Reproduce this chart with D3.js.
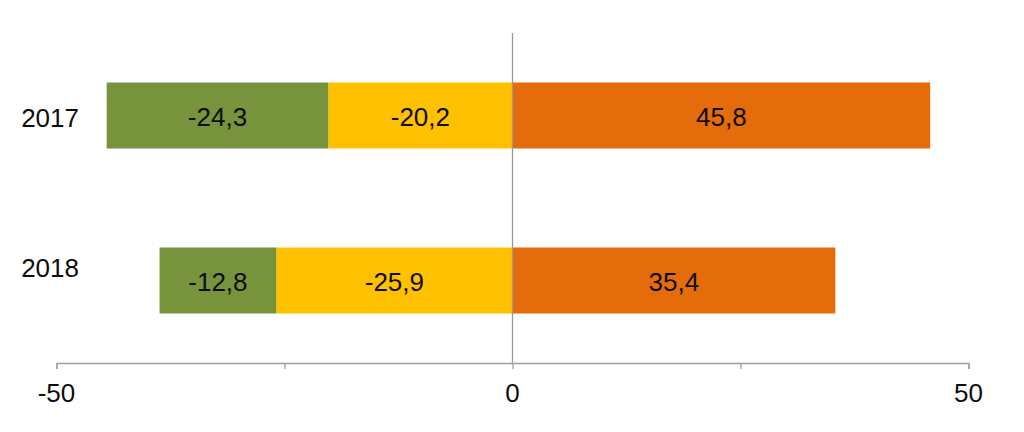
<!DOCTYPE html>
<html>
<head>
<meta charset="utf-8">
<script src="https://cdn.jsdelivr.net/npm/d3@7"></script>
<style>
  body { margin: 0; background: #fff; }
  svg { display: block; font-family: "Liberation Sans", Arial, sans-serif; }
</style>
</head>
<body>
<div id="chart"></div>
<script>
var years = ["2017", "2018"];
var green_vals = [-24.3, -12.8];
var yellow_vals = [-20.2, -25.9];
var orange_vals = [45.8, 35.4];
var x_ticks = [-50, -25, 0, 25, 50];
var x_labels = [-50, 0, 50];

var width = 1024, height = 432;

var svg = d3.select("#chart").append("svg")
    .attr("width", width)
    .attr("height", height);

var x = d3.scaleLinear().domain([-50, 50]).range([56.5, 968.5]);
var y = d3.scaleBand().domain(years).range([33, 363])
    .paddingInner(0.6).paddingOuter(0.3);
// the year labels don't sit on the bar centres in the original
var yLab = d3.scalePoint().domain(years).range([117.5, 267.5]);

var fmt = function (v) { return d3.format(".1f")(v).replace("\u2212", "-").replace(".", ","); };

// build stacked segments: yellow next to zero, green further out
var segs = [];
years.forEach(function (yr, i) {
  segs.push({ year: yr, x0: 0, x1: yellow_vals[i], v: yellow_vals[i], color: "#FFC000" });
  segs.push({ year: yr, x0: yellow_vals[i], x1: yellow_vals[i] + green_vals[i], v: green_vals[i], color: "#77933C" });
  segs.push({ year: yr, x0: 0, x1: orange_vals[i], v: orange_vals[i], color: "#E46C0A" });
});

svg.selectAll("rect.seg")
  .data(segs)
  .enter().append("rect")
  .attr("class", "seg")
  .attr("x", function (d) { return x(Math.min(d.x0, d.x1)); })
  .attr("width", function (d) { return Math.abs(x(d.x1) - x(d.x0)); })
  .attr("y", function (d) { return y(d.year); })
  .attr("height", y.bandwidth())
  .attr("fill", function (d) { return d.color; });

svg.selectAll("text.val")
  .data(segs)
  .enter().append("text")
  .attr("class", "val")
  .attr("x", function (d) { return (x(d.x0) + x(d.x1)) / 2; })
  .attr("y", function (d) { return y(d.year) + y.bandwidth() / 2 + 1; })
  .attr("dy", "0.36em")
  .attr("text-anchor", "middle")
  .attr("font-size", 26)
  .attr("fill", "#0d0d0d")
  .text(function (d) { return fmt(d.v); });

// zero line
svg.append("line")
  .attr("x1", x(0)).attr("x2", x(0))
  .attr("y1", 33).attr("y2", 363)
  .attr("stroke", "#999").attr("stroke-width", 1.3);

// x axis
var xAxis = d3.axisBottom(x).tickValues(x_ticks).tickSize(6).tickFormat("");
var gx = svg.append("g").attr("transform", "translate(0,363)").call(xAxis);
gx.select(".domain").attr("stroke", "#a0a0a0").attr("stroke-width", 1.3);
gx.selectAll(".tick line").attr("stroke", "#a0a0a0").attr("stroke-width", 1.3);

svg.selectAll("text.xlab")
  .data(x_labels)
  .enter().append("text")
  .attr("class", "xlab")
  .attr("x", function (d) { return x(d); })
  .attr("y", 402)
  .attr("text-anchor", "middle")
  .attr("font-size", 26)
  .attr("fill", "#0d0d0d")
  .text(function (d) { return d; });

// year labels
svg.selectAll("text.ylab")
  .data(years)
  .enter().append("text")
  .attr("class", "ylab")
  .attr("x", 79)
  .attr("y", function (d) { return yLab(d); })
  .attr("dy", "0.36em")
  .attr("text-anchor", "end")
  .attr("font-size", 26)
  .attr("fill", "#0d0d0d")
  .text(function (d) { return d; });
</script>
</body>
</html>
